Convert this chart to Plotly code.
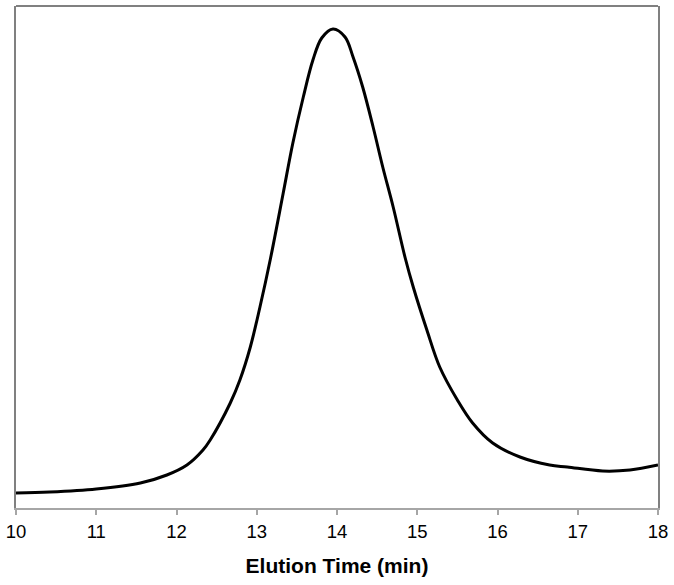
import plotly.graph_objects as go

time_min = [10.0, 10.42, 11.0, 11.55, 11.88, 12.13, 12.33, 12.42, 12.67, 12.79, 12.92, 13.04,
            13.17, 13.33, 13.45, 13.58, 13.70, 13.81, 13.95, 14.10, 14.20,
            14.32, 14.45, 14.57, 14.70, 14.85, 14.95, 15.12, 15.28, 15.50, 15.69, 15.94,
            16.28, 16.65, 16.87, 17.31, 17.65, 18.0]
signal = [15, 16, 19, 25, 33, 43, 58, 68, 105, 128, 161, 201,
          249, 315, 365, 411, 448, 470, 479, 471, 451,
          421, 381, 341, 301, 250, 221, 178, 141, 108, 85, 65,
          51, 43, 41, 37, 38, 43]
x_ticks = [10, 11, 12, 13, 14, 15, 16, 17, 18]

fig = go.Figure()
fig.add_trace(go.Scatter(x=time_min, y=signal, mode="lines",
                         line=dict(color="black", width=3, shape="spline", smoothing=1.0),
                         hoverinfo="skip", showlegend=False, cliponaxis=False))

fig.update_layout(
    width=674, height=585,
    margin=dict(l=16, r=16, t=6, b=77, autoexpand=False),
    paper_bgcolor="white", plot_bgcolor="white",
    font=dict(family="Liberation Sans, Arial, sans-serif", color="black"),
    xaxis=dict(range=[10, 18], tickvals=x_ticks, ticks="outside", ticklen=5,
               tickcolor="#a6a6a6", tickwidth=1.5, showline=True, linecolor="#a6a6a6",
               linewidth=1.5, showgrid=False, zeroline=False, automargin=False,
               tickfont=dict(size=18.5, color="black"), ticklabelstandoff=1,
               ticklabeloverflow="allow",
               title=dict(text="<b>Elution Time (min)</b>", font=dict(size=21), standoff=17)),
    yaxis=dict(range=[0, 502], showticklabels=False, ticks="", showgrid=False,
               zeroline=False, showline=True, linecolor="#808080", linewidth=2, mirror=True,
               automargin=False),
    shapes=[dict(type="line", xref="paper", yref="paper", x0=0, x1=1, y0=1, y1=1,
                 line=dict(color="#808080", width=2))],
)

fig.write_html("out.html", config={"displayModeBar": False},
               post_script="document.body.style.margin='0';document.body.style.overflow='hidden';")
